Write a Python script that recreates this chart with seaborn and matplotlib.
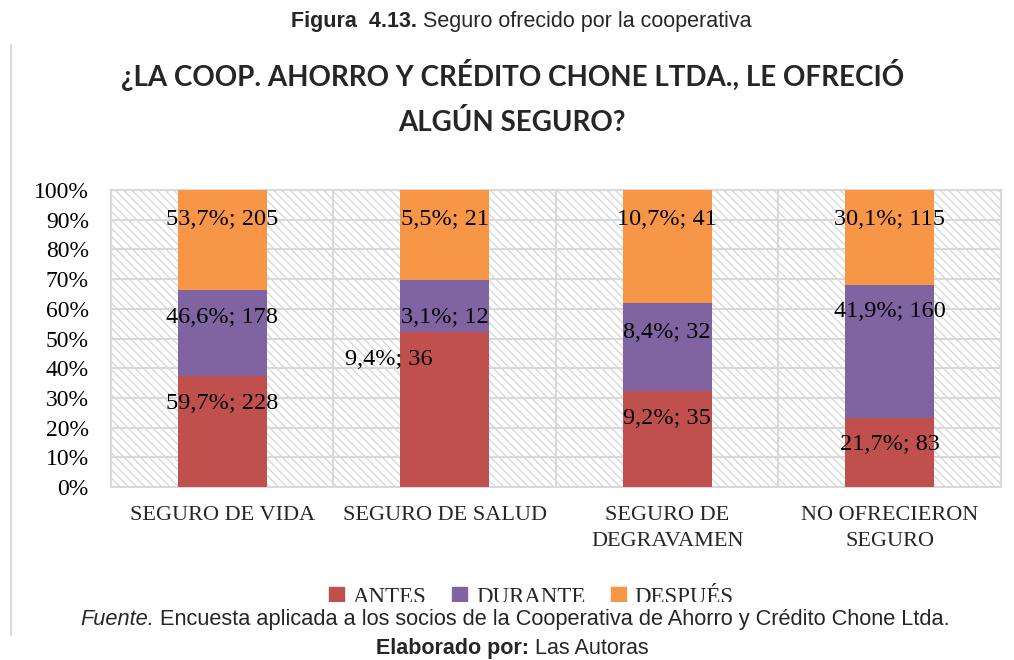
import numpy as np
import pandas as pd
import matplotlib
matplotlib.use("Agg")
import matplotlib.pyplot as plt
import matplotlib.transforms as mtransforms
from matplotlib.patches import Rectangle, Patch
from matplotlib.lines import Line2D
import seaborn as sns

# ── Datos ──────────────────────────────────────────────
categorias = ["SEGURO DE VIDA", "SEGURO DE SALUD", "SEGURO DE\nDEGRAVAMEN", "NO OFRECIERON\nSEGURO"]
series = ["ANTES", "DURANTE", "DESPUÉS"]
antes = [228, 36, 35, 83]
durante = [178, 12, 32, 160]
despues = [205, 21, 41, 115]

colores = ["#C0504D", "#8064A2", "#F79646"]
# altura (en %) donde quedan las etiquetas en el original, y corrimiento en x
label_y = [[28, 43, 23, 14.5], [57, 57, 52, 59], [90, 90, 90, 90]]
label_dx = [[0, -0.25, 0, 0], [0, 0, 0, 0], [0, 0, 0, 0]]

sns.set_theme(style="white")
plt.rcParams["hatch.color"] = "#D9D9D9"
plt.rcParams["hatch.linewidth"] = 1.0

SERIF = "Liberation Serif"
narrow = ["Liberation Sans Narrow", "Liberation Sans"]

df = pd.DataFrame({"cat": categorias, "ANTES": antes, "DURANTE": durante, "DESPUÉS": despues})
total = df[series].sum(axis=1)
pct = df[series].div(total, axis=0) * 100
cum = pct.cumsum(axis=1)

fig = plt.figure(figsize=(10.14, 6.6), dpi=100)
ax = fig.add_axes([0.1095, 0.262, 0.8775, 0.45])
ax.patch.set_hatch("\\\\\\\\")
ax.patch.set_edgecolor("#D9D9D9")

# barras apiladas: se dibuja la acumulada de mayor a menor
for i in reversed(range(3)):
    sns.barplot(x=df["cat"], y=cum[series[i]], color=colores[i], width=0.4,
                saturation=1, ax=ax, zorder=3, linewidth=0)

ax.set_ylim(0, 100)
ax.set_xlim(-0.5, 3.5)
ax.set_yticks(np.arange(0, 101, 10))
ax.set_yticklabels([f"{v}%" for v in range(0, 101, 10)], family=SERIF)
ax.set_xticks(range(len(categorias)))
ax.set_xticklabels([""] * len(categorias))
ax.set_xlabel(""); ax.set_ylabel("")
for v in range(10, 101, 10):
    ax.axhline(v, color="#D9D9D9", lw=1.5, zorder=1)
for x in [0.5, 1.5, 2.5]:
    ax.axvline(x, color="#D9D9D9", lw=1.5, zorder=1)
for s in ax.spines.values():
    s.set_color("#D9D9D9"); s.set_linewidth(1.5)
ax.tick_params(axis="y", length=0, labelsize=17, labelcolor="black", pad=16)
ax.tick_params(axis="x", length=0)

# rótulos de categoría (texto aparte para controlar el interlineado)
trans = mtransforms.blended_transform_factory(ax.transData, ax.transAxes)
for j, c in enumerate(categorias):
    ax.text(j, -0.065, c, transform=trans, ha="center", va="top", fontsize=16,
            family=SERIF, linespacing=1.45, multialignment="center")

# etiquetas de datos: % sobre el total de cada serie; n
for i, s in enumerate(series):
    col_pct = df[s] / df[s].sum() * 100
    for j in range(len(categorias)):
        txt = f"{col_pct[j]:.1f}%; {df[s][j]}".replace(".", ",")
        ax.text(j + label_dx[i][j], label_y[i][j], txt, ha="center", va="center",
                fontsize=17.5, family=SERIF, color="black", zorder=5)

# leyenda
handles = [Patch(color=c, label=s) for c, s in zip(colores, series)]
fig.legend(handles=handles, loc="center", bbox_to_anchor=(0.524, 0.095), ncol=3,
           frameon=False, prop={"family": SERIF, "size": 16.5},
           handlelength=0.65, handleheight=0.65, columnspacing=1.1, handletextpad=0.4)

# recuadro blanco que tapa parte de la leyenda (como en el original)
fig.patches.append(Rectangle((0, 0), 1, 0.088, transform=fig.transFigure,
                             facecolor="white", edgecolor="none", zorder=10))
fig.lines.append(Line2D([0.0105, 0.0105], [0.038, 0.932], transform=fig.transFigure,
                        color="#D9D9D9", lw=1.5, zorder=12))

fig.text(0.411, 0.967, "Figura  4.13.", ha="right", va="center", fontsize=15.5,
         fontweight="bold", family=narrow, zorder=11)
fig.text(0.411, 0.967, " Seguro ofrecido por la cooperativa", ha="left", va="center",
         fontsize=15.5, family=narrow, zorder=11)
fig.text(0.505, 0.886, "¿LA COOP. AHORRO Y CRÉDITO CHONE LTDA., LE OFRECIÓ", ha="center",
         va="center", fontsize=20, fontweight="bold", family="Lato")
fig.text(0.505, 0.815, "ALGÚN SEGURO?", ha="center", va="center", fontsize=20,
         fontweight="bold", family="Lato")
fig.text(0.079, 0.061, "Fuente.", ha="left", va="center", fontsize=15.7, style="italic",
         family=narrow, zorder=11)
fig.text(0.158, 0.061, "Encuesta aplicada a los socios de la Cooperativa de Ahorro y Crédito Chone Ltda.",
         ha="left", va="center", fontsize=15.7, family=narrow, zorder=11)
fig.text(0.522, 0.018, "Elaborado por:", ha="right", va="center", fontsize=15.5,
         fontweight="bold", family=narrow, zorder=11)
fig.text(0.522, 0.018, " Las Autoras", ha="left", va="center", fontsize=15.5,
         family=narrow, zorder=11)

plt.savefig("out.png", dpi=100)
